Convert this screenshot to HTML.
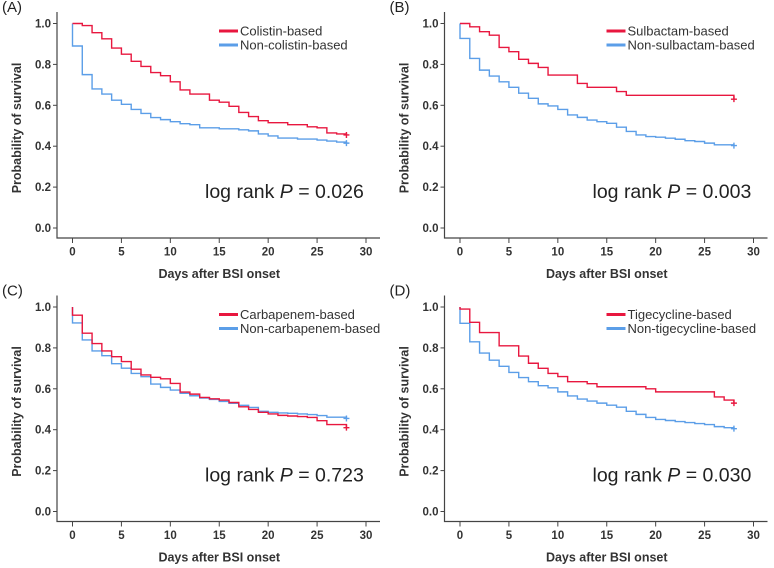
<!DOCTYPE html>
<html><head><meta charset="utf-8"><style>
body{margin:0;background:#fff}
svg{display:block;font-family:"Liberation Sans",Arial,sans-serif}
</style></head><body>
<svg id="chart" width="774" height="568" viewBox="0 0 774 568" xmlns="http://www.w3.org/2000/svg"></svg>
<script>
const days = [0,1,2,3,4,5,6,7,8,9,10,11,12,13,14,15,16,17,18,19,20,21,22,23,24,25,26,27,28];
const xTicks = [0,5,10,15,20,25,30];
const yTicks = [0.0,0.2,0.4,0.6,0.8,1.0];
const panelLabels = ["(A)","(B)","(C)","(D)"];
const pValues = ["0.026","0.003","0.723","0.030"];
const legendA = ["Colistin-based","Non-colistin-based"];
const legendB = ["Sulbactam-based","Non-sulbactam-based"];
const legendC = ["Carbapenem-based","Non-carbapenem-based"];
const legendD = ["Tigecycline-based","Non-tigecycline-based"];
const redA = [1.0,.99,.955,.925,.88,.85,.815,.79,.76,.745,.715,.675,.655,.655,.625,.615,.595,.565,.545,.525,.515,.515,.505,.505,.495,.49,.465,.46,.455];
const blueA = [.89,.75,.68,.655,.625,.605,.58,.56,.54,.53,.52,.51,.505,.49,.49,.485,.485,.48,.475,.46,.45,.44,.44,.435,.435,.43,.425,.42,.415];
const redB = [1,.984,.96,.943,.883,.862,.825,.805,.785,.748,.748,.748,.707,.688,.688,.688,.667,.649,.649,.649,.649,.649,.649,.649,.649,.649,.649,.649,.63];
const blueB = [.927,.829,.772,.743,.715,.688,.659,.634,.607,.597,.58,.553,.541,.528,.52,.512,.493,.472,.455,.447,.444,.439,.434,.427,.423,.415,.407,.407,.403];
const redC = [.96,.872,.821,.785,.757,.733,.696,.668,.656,.649,.626,.584,.574,.558,.551,.545,.533,.512,.499,.485,.477,.47,.467,.464,.46,.444,.425,.425,.41];
const blueC = [.922,.839,.785,.762,.723,.701,.675,.659,.623,.607,.594,.578,.566,.555,.548,.538,.529,.519,.509,.49,.485,.482,.48,.477,.474,.469,.461,.461,.455];
const redD = [.99,.925,.875,.875,.81,.81,.76,.725,.70,.675,.66,.635,.635,.625,.61,.61,.61,.61,.61,.60,.585,.585,.585,.585,.585,.585,.56,.545,.53];
const blueD = [.92,.83,.775,.74,.71,.68,.655,.635,.615,.605,.585,.565,.55,.54,.53,.52,.51,.49,.475,.46,.45,.445,.44,.435,.43,.425,.415,.41,.405];

const svg = document.getElementById('chart');
const NS = 'http://www.w3.org/2000/svg';
function mk(tag, attrs, parent){const e=document.createElementNS(NS,tag);for(const k in attrs)e.setAttribute(k,attrs[k]);parent.appendChild(e);return e;}
const RED='#e8173f', BLUE='#5b9ee8';
const panels=[
 {dx:0,dy:0,red:redA,blue:blueA,leg:legendA,id:'a'},
 {dx:387.5,dy:0,red:redB,blue:blueB,leg:legendB,id:'b'},
 {dx:0,dy:283.5,red:redC,blue:blueC,leg:legendC,id:'c'},
 {dx:387.5,dy:283.5,red:redD,blue:blueD,leg:legendD,id:'d'}
];
panels.forEach((p,i)=>{
  const g=mk('g',{transform:`translate(${p.dx},${p.dy})`},svg);
  
  
  const xs=d=>72.5+d*(293.5/30);
  const ys=v=>228-v*204.5;
  const lab=mk('text',{x:2,y:12,'font-size':15,fill:'#222'},g);lab.textContent=panelLabels[i];
  
  
  const ax=mk('path',{d:'M57,12 V238 H380',fill:'none',stroke:'#444','stroke-width':1.2},g);
  
  
  yTicks.forEach(t=>{
    mk('line',{x1:53,x2:57,y1:ys(t),y2:ys(t),stroke:'#444'},g);
    const tx=mk('text',{x:51,y:ys(t)+4,'text-anchor':'end','font-size':11.5,'font-weight':'bold',fill:'#333'},g);
    tx.textContent=t.toFixed(1);
    
    
  });
  xTicks.forEach(t=>{
    mk('line',{x1:xs(t),x2:xs(t),y1:238,y2:243,stroke:'#444'},g);
    const tx=mk('text',{x:xs(t),y:255.5,'text-anchor':'middle','font-size':11.5,'font-weight':'bold',fill:'#333'},g);
    tx.textContent=t;
    
    
  });
  const xt=mk('text',{x:xs(15),y:278,'text-anchor':'middle','font-size':12.5,'font-weight':'bold',fill:'#333'},g);
  xt.textContent='Days after BSI onset';
  
  
  const yt=mk('text',{x:0,y:0,transform:'translate(21,128) rotate(-90)','text-anchor':'middle','font-size':12.5,'font-weight':'bold',fill:'#333'},g);
  yt.textContent='Probability of survival';
  
  
  [[p.blue,BLUE,'blue'],[p.red,RED,'red']].forEach(([vals,col,nm])=>{
    let d=`M${xs(days[0])},${ys(1)} V${ys(vals[0])}`;
    for(let k=1;k<vals.length;k++){d+=` H${xs(days[k])} V${ys(vals[k])}`;}
    const path=mk('path',{d:d,fill:'none',stroke:col,'stroke-width':1.4},g);
    
    
    const last=vals.length-1, cx=xs(days[last]), cy=ys(vals[last]);
    const cm=mk('path',{d:`M${cx-3},${cy} H${cx+3} M${cx},${cy-3} V${cy+3}`,stroke:col,'stroke-width':1.4},g);
    
    
  });
  [[RED,p.leg[0],31],[BLUE,p.leg[1],45]].forEach(([col,txt,y],j)=>{
    const lg=mk('g',{},g);
    
    
    mk('line',{x1:219,x2:238,y1:y,y2:y,stroke:col,'stroke-width':3},lg);
    const t=mk('text',{x:240,y:y+4.5,'font-size':13,fill:'#333'},lg);t.textContent=txt;
  });
  const lr=mk('text',{x:205,y:198,'font-size':19.5,fill:'#222'},g);
  lr.innerHTML='log rank <tspan font-style="italic">P</tspan> = '+pValues[i];
  
  
});
</script>
</body></html>
